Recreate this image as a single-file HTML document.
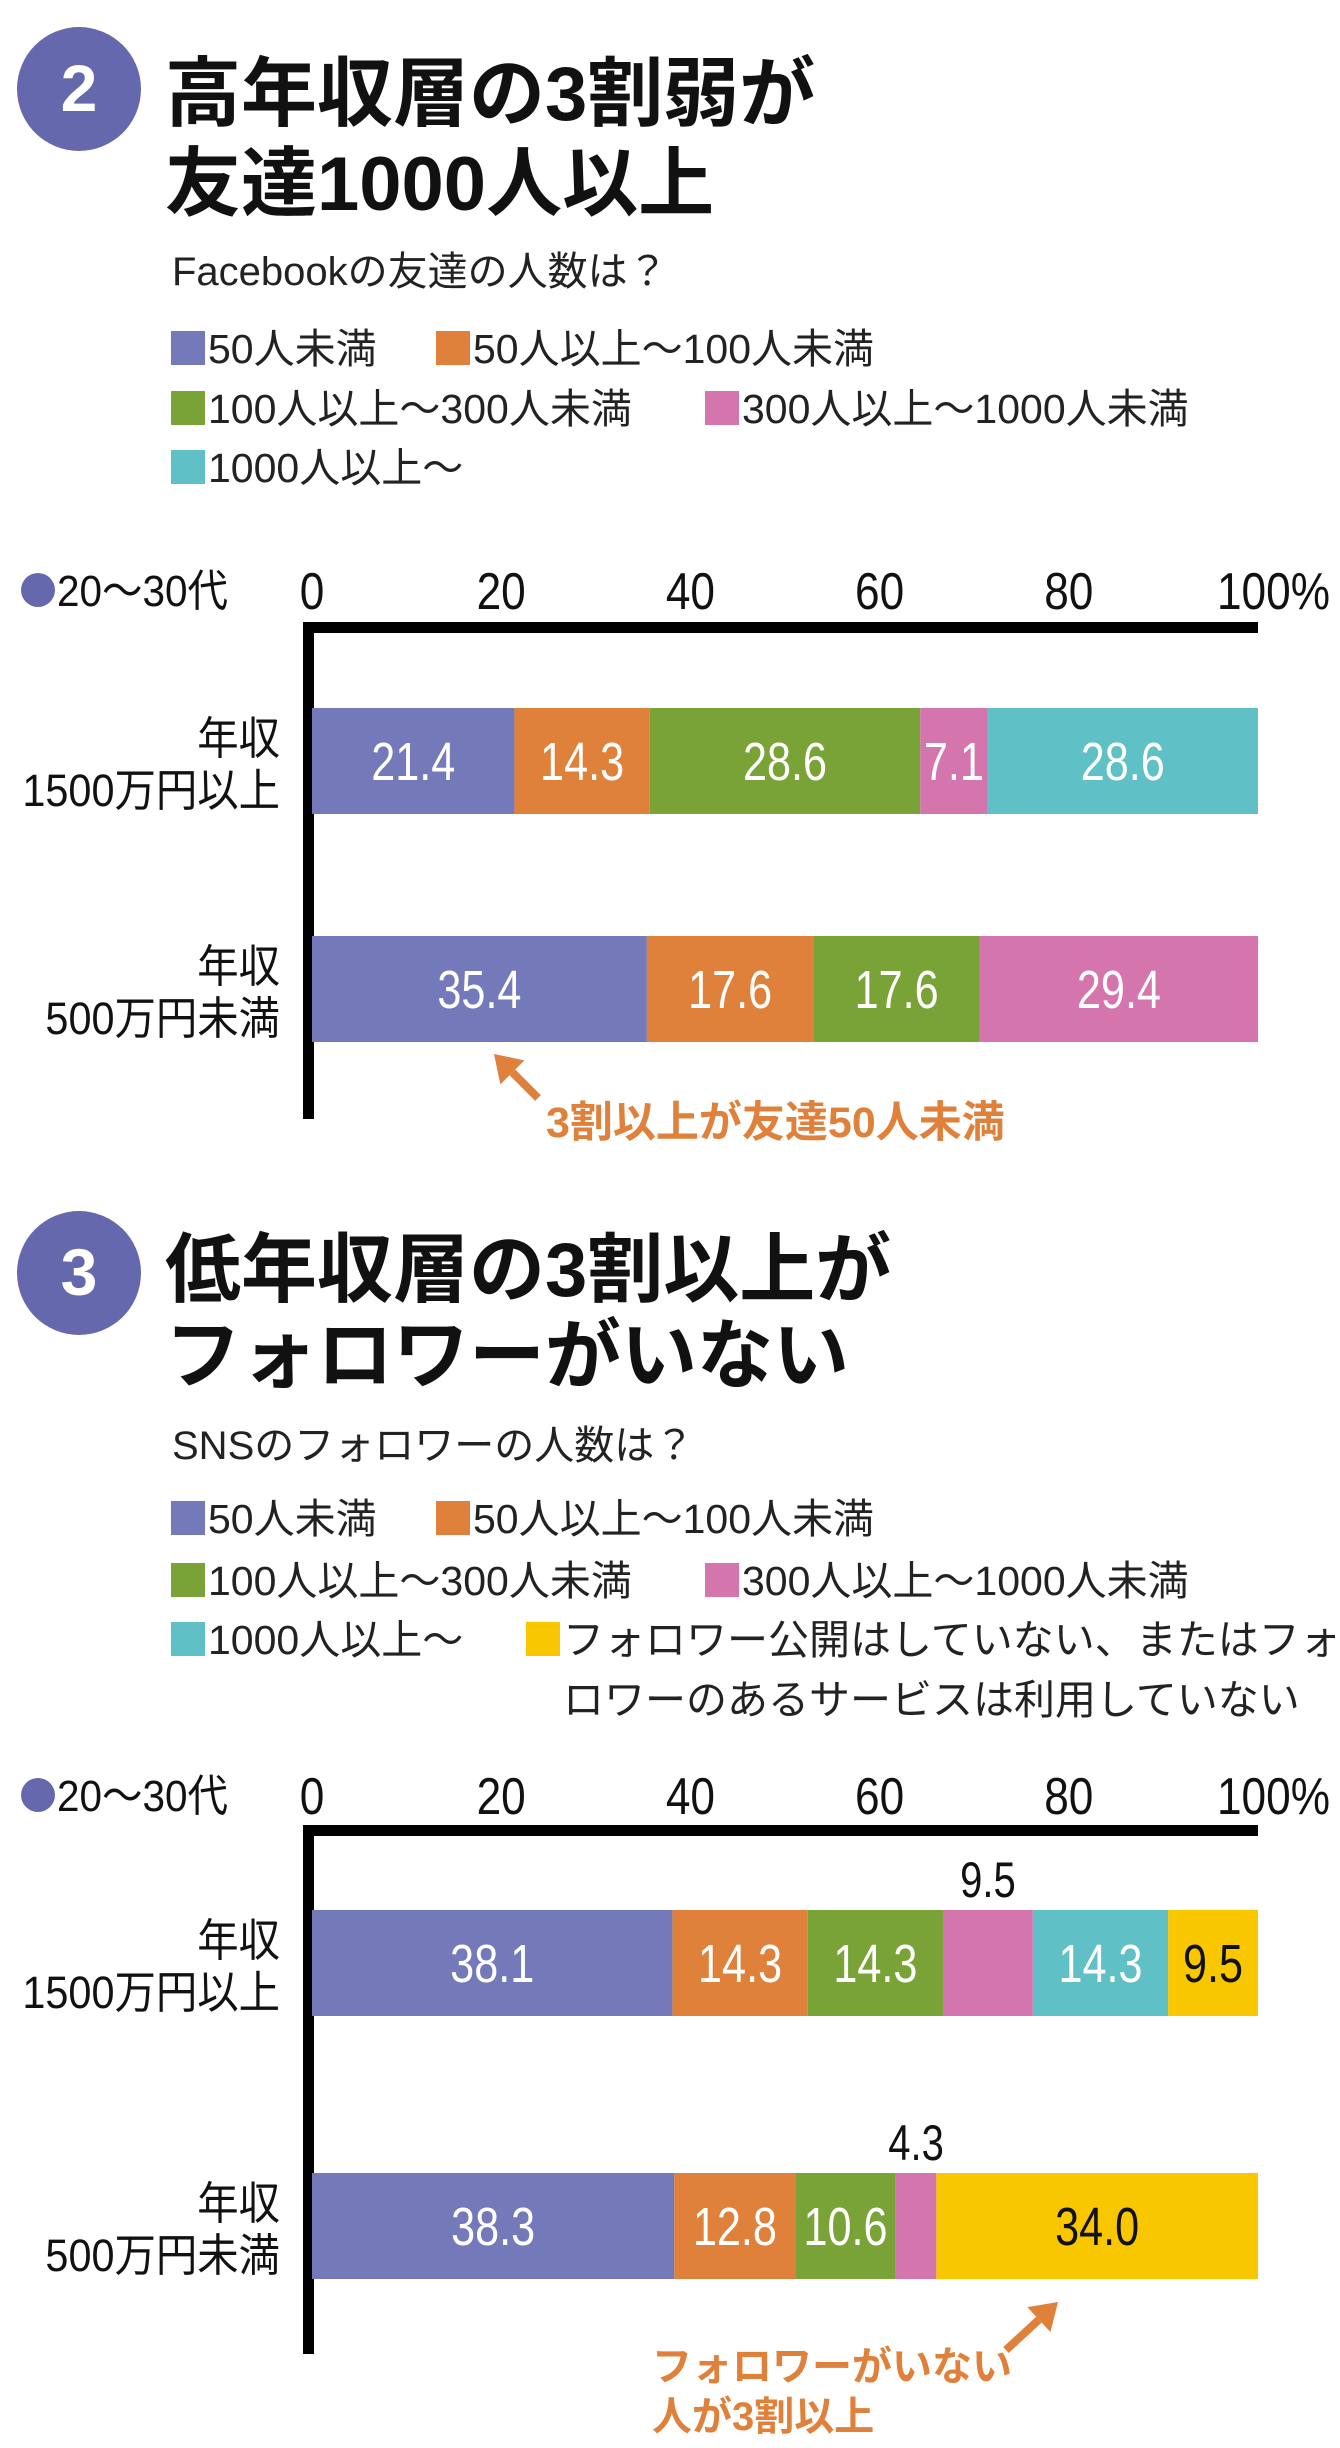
<!DOCTYPE html>
<html><head><meta charset="utf-8">
<style>
html,body{margin:0;padding:0;background:#fff;}
svg{display:block;}
text{font-family:"Liberation Sans","Noto Sans CJK JP",sans-serif;}
.n{font-family:"Liberation Sans Narrow","Liberation Sans","Noto Sans CJK JP",sans-serif;}
.t{font-weight:bold;font-size:76px;fill:#111;}
</style></head>
<body>
<svg id="root" width="1340" height="2448" viewBox="0 0 1340 2448" xmlns="http://www.w3.org/2000/svg">
  <g>
    <circle cx="79" cy="89" r="62" fill="#6668ad"/>
    <text x="79" y="111" text-anchor="middle" font-size="66" font-weight="bold" fill="#fff">2</text>
    <text class="t" x="165" y="120">高年収層の3割弱が</text>
    <text class="t" x="165" y="210">友達1000人以上</text>
    <text x="172" y="285" font-size="40" fill="#222">Facebookの友達の人数は？</text>
  </g>
  <g id="legend2"></g>
  <g id="chart2"></g>

  <g>
    <circle cx="79" cy="1273" r="62" fill="#6668ad"/>
    <text x="79" y="1295" text-anchor="middle" font-size="66" font-weight="bold" fill="#fff">3</text>
    <text class="t" x="165" y="1296">低年収層の3割以上が</text>
    <text class="t" x="165" y="1382">フォロワーがいない</text>
    <text x="172" y="1459" font-size="40" fill="#222">SNSのフォロワーの人数は？</text>
  </g>
  <g id="legend3"></g>
  <g id="chart3"></g>
</svg>
<script>
const NS = "http://www.w3.org/2000/svg";
// ---- data ----
const seriesNames2 = ["50人未満","50人以上～100人未満","100人以上～300人未満","300人以上～1000人未満","1000人以上～"];
const categories2 = [["年収","1500万円以上"],["年収","500万円未満"]];
const valuesHigh2 = [21.4,14.3,28.6,7.1,28.6];
const valuesLow2 = [35.4,17.6,17.6,29.4,0];
const seriesNames3 = ["50人未満","50人以上～100人未満","100人以上～300人未満","300人以上～1000人未満","1000人以上～","フォロワー公開はしていない、またはフォロワーのあるサービスは利用していない"];
const categories3 = [["年収","1500万円以上"],["年収","500万円未満"]];
const valuesHigh3 = [38.1,14.3,14.3,9.5,14.3,9.5];
const valuesLow3 = [38.3,12.8,10.6,4.3,0,34.0];
const tickValues = [0,20,40,60,80,100];
const tickLabels = ["0","20","40","60","80","100%"];
const colors = ["#7479b9","#e0813b","#79a336","#d575ad","#5fc0c6","#f9c700"];

function mk(tag, attrs, parent, txt){
  const e = document.createElementNS(NS, tag);
  for (const k in attrs) e.setAttribute(k, attrs[k]);
  if (txt !== undefined) e.textContent = txt;
  parent.appendChild(e);
  return e;
}
// condensed text: scale horizontally around anchor x
function narrow(e, x, s){
  e.setAttribute("transform", `translate(${x},0) scale(${s},1) translate(${-x},0)`);
}

function legend(gId, items){
  const g = document.getElementById(gId);
  items.forEach((it, i) => {
    const sq = mk("rect",{x:it.x,y:it.y-17,width:34,height:34,fill:colors[it.c]},g);
    
    
    const t = mk("text",{x:it.x+37,y:it.y+15,"font-size":41,fill:"#222"},g,it.label);
    
    
    if (it.label2){
      const t2 = mk("text",{x:it.x+37,y:it.y+75,"font-size":41,fill:"#222"},g,it.label2);
      
      
    }
  });
}

legend("legend2",[
  {x:171,y:348,c:0,label:seriesNames2[0]},
  {x:436,y:348,c:1,label:seriesNames2[1]},
  {x:171,y:408,c:2,label:seriesNames2[2]},
  {x:705,y:408,c:3,label:seriesNames2[3]},
  {x:171,y:467,c:4,label:seriesNames2[4]}
]);
legend("legend3",[
  {x:171,y:1518,c:0,label:seriesNames3[0]},
  {x:436,y:1518,c:1,label:seriesNames3[1]},
  {x:171,y:1580,c:2,label:seriesNames3[2]},
  {x:705,y:1580,c:3,label:seriesNames3[3]},
  {x:171,y:1639,c:4,label:seriesNames3[4]},
  {x:526,y:1639,c:5,label:"フォロワー公開はしていない、またはフォ",label2:"ロワーのあるサービスは利用していない"}
]);

function chart(gId, cfg){
  const g = document.getElementById(gId);
  const x0 = 312, x1 = 1258;
  const xs = v => x0 + (x1 - x0) * v / 100;
  const dot = mk("circle",{cx:38,cy:cfg.axisLabelY-2,r:17,fill:"#6668ad"},g);
  
  
  const al = mk("text",{x:57,y:cfg.axisLabelY+14,"font-size":44,fill:"#111"},g,"20～30代");
  narrow(al,57,0.92);
  
  
  tickValues.forEach((v,i) => {
    const last = i === tickValues.length-1;
    const tx = last?1330:xs(v);
    const t = mk("text",{x:tx,y:cfg.axisLabelY+17,"font-size":52,"text-anchor":last?"end":"middle",fill:"#111"},g,tickLabels[i]);
    narrow(t,tx,0.85);
    
    
  });
  const ax = mk("rect",{x:303,y:cfg.axisY,width:x1-303,height:11,fill:"#000"},g);
  
  
  const ay = mk("rect",{x:303,y:cfg.axisY,width:11,height:cfg.axisBottom-cfg.axisY,fill:"#000"},g);
  
  

  cfg.rows.forEach((row, ri) => {
    const top = cfg.barTops[ri], h = 106;
    const c1 = mk("text",{x:280,y:top+46,"font-size":45,"text-anchor":"end",fill:"#111"},g,row.cat[0]);
    narrow(c1,280,0.92);
    
    
    const c2 = mk("text",{x:280,y:top+98,"font-size":45,"text-anchor":"end",fill:"#111"},g,row.cat[1]);
    narrow(c2,280,0.92);
    
    
    let acc = 0;
    row.vals.forEach((v, si) => {
      if (v <= 0) return;
      const xa = xs(acc), xb = xs(acc + v);
      const r = mk("rect",{x:xa,y:top,width:xb-xa,height:h,fill:colors[si]},g);
      
      
      const above = cfg.aboveSeries.indexOf(si) >= 0;
      const lbl = v.toFixed(1);
      const cx = (xa+xb)/2;
      const t = mk("text",{x:cx,y:above?top-13:top+h/2+19,"font-size":above?50:54,"text-anchor":"middle",fill:above||si===5?"#111":"#fff"},g,lbl);
      narrow(t,cx,0.8);
      
      
      acc += v;
    });
  });
}

chart("chart2",{axisLabelY:592,axisY:622,axisBottom:1119,barTops:[708,936],aboveSeries:[],
  rows:[{cat:categories2[0],vals:valuesHigh2},{cat:categories2[1],vals:valuesLow2}]});
chart("chart3",{axisLabelY:1797,axisY:1825,axisBottom:2354,barTops:[1910,2173],aboveSeries:[3],
  rows:[{cat:categories3[0],vals:valuesHigh3},{cat:categories3[1],vals:valuesLow3}]});

const root = document.getElementById("root");
function arrow(x1,y1,x2,y2,name){
  const g = mk("g",{},root);
  
  
  const ang = Math.atan2(y2-y1,x2-x1), L=26, W=17;
  const bx = x2 - L*Math.cos(ang), by = y2 - L*Math.sin(ang);
  mk("line",{x1:x1,y1:y1,x2:bx,y2:by,stroke:"#e0813b","stroke-width":8},g);
  const px = -Math.sin(ang)*W, py = Math.cos(ang)*W;
  mk("polygon",{points:`${x2},${y2} ${bx+px},${by+py} ${bx-px},${by-py}`,fill:"#e0813b"},g);
}
arrow(538,1098,494,1054,"annotation2-arrow");
const a2 = mk("text",{x:546,y:1137,"font-size":43,"font-weight":"bold",fill:"#e0813b"},root,"3割以上が友達50人未満");


arrow(1006,2350,1058,2302,"annotation3-arrow");
const a3 = mk("text",{x:652,y:2380,"font-size":40,"font-weight":"bold",fill:"#e0813b"},root,"フォロワーがいない");


const a4 = mk("text",{x:652,y:2430,"font-size":40,"font-weight":"bold",fill:"#e0813b"},root,"人が3割以上");


</script>
</body></html>
